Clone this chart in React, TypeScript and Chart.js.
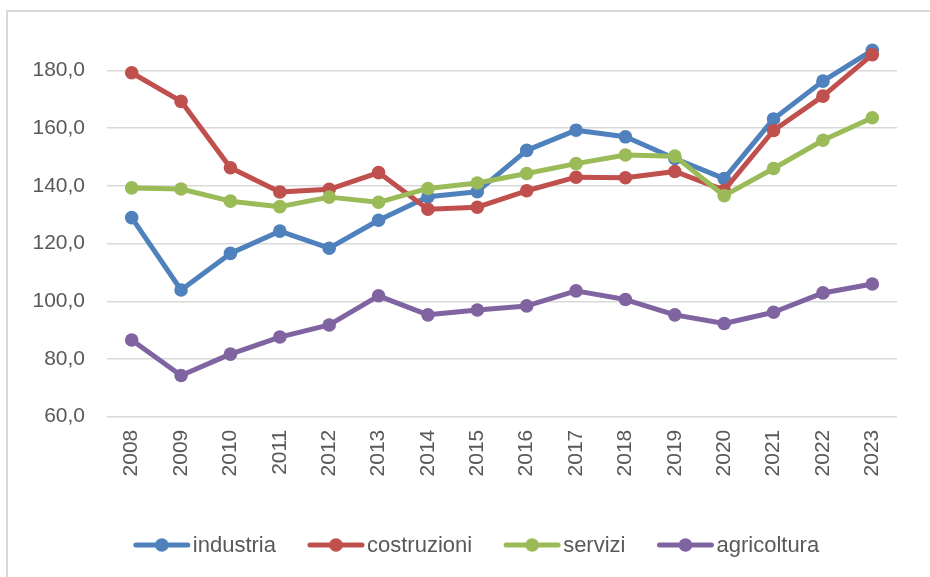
import React, { useEffect, useRef } from "react";
import { Chart, registerables } from "chart.js";

Chart.register(...registerables);

const years = ["2008","2009","2010","2011","2012","2013","2014","2015","2016","2017","2018","2019","2020","2021","2022","2023"];
const industria = [129.0, 103.9, 116.6, 124.3, 118.4, 128.1, 136.2, 138.0, 152.3, 159.3, 157.0, 149.5, 142.5, 163.2, 176.3, 187.0];
const costruzioni = [179.2, 169.3, 146.3, 137.9, 138.8, 144.6, 131.9, 132.6, 138.3, 143.0, 142.8, 145.0, 138.5, 159.2, 171.1, 185.5];
const servizi = [139.3, 138.9, 134.7, 132.8, 136.1, 134.3, 139.1, 141.0, 144.3, 147.7, 150.7, 150.3, 136.6, 146.0, 155.8, 163.6];
const agricoltura = [86.6, 74.3, 81.7, 87.6, 91.8, 101.9, 95.3, 97.0, 98.4, 103.6, 100.6, 95.3, 92.3, 96.2, 102.9, 106.0];
const yTicks = [60, 80, 100, 120, 140, 160, 180];
const seriesNames = ["industria", "costruzioni", "servizi", "agricoltura"];
const seriesColors = ["#4f81bd", "#c0504d", "#9bbb59", "#8064a2"];

const TEXT = "#595959";
const FONT = "'Liberation Sans', Arial, sans-serif";

const framePlugin = {
  id: "frame",
  beforeDraw(chart: any) {
    const ctx = chart.ctx;
    ctx.save();
    ctx.fillStyle = "#ffffff";
    ctx.fillRect(0, 0, chart.width, chart.height);
    ctx.strokeStyle = "#d9d9d9";
    ctx.lineWidth = 2;
    ctx.beginPath();
    ctx.moveTo(7, chart.height);
    ctx.lineTo(7, 11);
    ctx.lineTo(chart.width, 11);
    ctx.stroke();
    ctx.restore();
  },
};

const legendPlugin = {
  id: "customLegend",
  afterDraw(chart: any) {
    const ctx = chart.ctx;
    ctx.save();
    ctx.font = "22px " + FONT;
    const lineLen = 56;
    const gap = 3;
    const itemGap = 32;
    const widths = seriesNames.map((n) => ctx.measureText(n).width);
    const total = widths.reduce((a, w) => a + lineLen + gap + w, 0) + itemGap * (seriesNames.length - 1);
    let x = 476.5 - total / 2;
    const y = 545;
    seriesNames.forEach((name, i) => {
      ctx.strokeStyle = seriesColors[i];
      ctx.lineWidth = 5;
      ctx.lineCap = "round";
      ctx.beginPath();
      ctx.moveTo(x + 2, y);
      ctx.lineTo(x + lineLen - 2, y);
      ctx.stroke();
      ctx.fillStyle = seriesColors[i];
      ctx.beginPath();
      ctx.arc(x + lineLen / 2, y, 6.8, 0, Math.PI * 2);
      ctx.fill();
      ctx.fillStyle = TEXT;
      ctx.textBaseline = "middle";
      ctx.textAlign = "left";
      ctx.fillText(name, x + lineLen + gap, y + 1);
      x += lineLen + gap + widths[i] + itemGap;
    });
    ctx.restore();
  },
};

export default function App() {
  const ref = useRef<HTMLCanvasElement | null>(null);
  useEffect(() => {
    if (!ref.current) return;
    const data = [industria, costruzioni, servizi, agricoltura];
    const chart = new Chart(ref.current, {
      type: "line",
      data: {
        labels: years,
        datasets: seriesNames.map((name, i) => ({
          label: name,
          data: data[i],
          borderColor: seriesColors[i],
          backgroundColor: seriesColors[i],
          pointBackgroundColor: seriesColors[i],
          pointBorderColor: seriesColors[i],
          borderWidth: 5,
          pointRadius: 6.8,
          pointBorderWidth: 0,
          tension: 0,
          borderJoinStyle: "round" as const,
          borderCapStyle: "round" as const,
          order: seriesNames.length - i,
        })),
      },
      options: {
        animation: false,
        responsive: false,
        layout: { padding: { left: 0, right: 33, top: 41.6, bottom: 80.3 } },
        plugins: { legend: { display: false }, tooltip: { enabled: false } },
        scales: {
          x: {
            offset: true,
            grid: { display: false, drawTicks: false },
            border: { display: false },
            ticks: {
              color: TEXT,
              font: { family: FONT, size: 21 },
              minRotation: 90,
              maxRotation: 90,
              padding: 13,
              autoSkip: false,
            },
            afterFit(scale: any) {
              scale.height = 80;
            },
          },
          y: {
            min: 60,
            max: 190,
            grid: { color: "#d9d9d9", lineWidth: 1.5, drawTicks: false },
            border: { display: false },
            ticks: {
              color: TEXT,
              font: { family: FONT, size: 21 },
              padding: 22,
              callback: (v: any) => Number(v).toFixed(1).replace(".", ","),
            },
            afterBuildTicks(scale: any) {
              scale.ticks = yTicks.map((v) => ({ value: v }));
            },
            afterFit(scale: any) {
              scale.width = 107;
            },
          },
        },
      },
      plugins: [framePlugin, legendPlugin],
    });
    return () => chart.destroy();
  }, []);
  return (
    <div style={{ position: "absolute", left: 0, top: 0, width: 930, height: 577 }}>
      <canvas ref={ref} width={930} height={577} />
    </div>
  );
}
